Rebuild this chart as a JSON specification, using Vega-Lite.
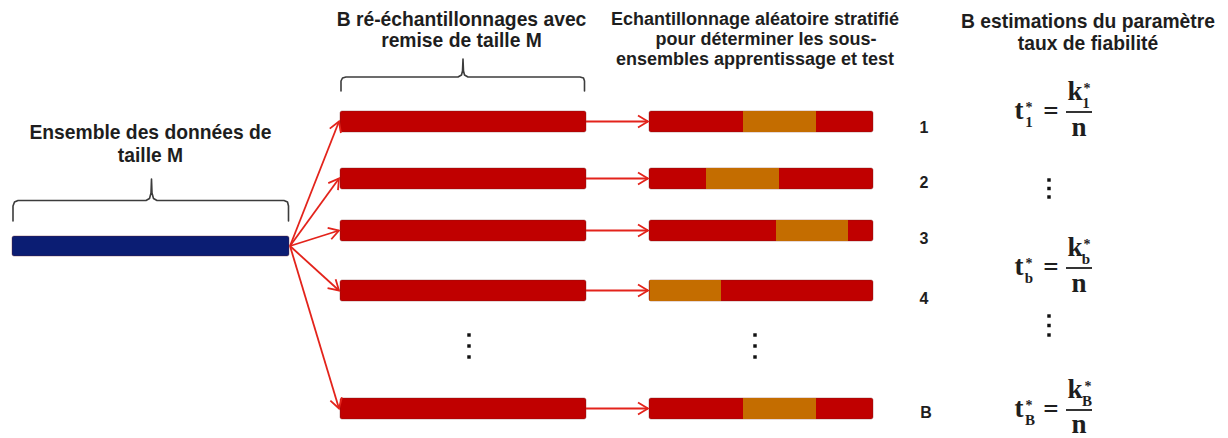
{
  "$schema": "https://vega.github.io/schema/vega-lite/v6.json",
  "width": 1228,
  "height": 438,
  "padding": 0,
  "autosize": {"type": "fit", "contains": "padding"},
  "background": "#ffffff",
  "config": {"view": {"stroke": null}, "axis": {"disable": true}, "legend": {"disable": true}},
  "datasets": {
    "bars": [
      {"kind": "ensemble", "x": 12, "x2": 289, "y": 236, "y2": 256},
      {"kind": "resample", "x": 340, "x2": 586, "y": 111, "y2": 132},
      {"kind": "resample", "x": 340, "x2": 586, "y": 168, "y2": 189},
      {"kind": "resample", "x": 340, "x2": 586, "y": 220, "y2": 241},
      {"kind": "resample", "x": 340, "x2": 586, "y": 280, "y2": 301},
      {"kind": "resample", "x": 340, "x2": 586, "y": 398, "y2": 419},
      {"kind": "apprentissage", "x": 649, "x2": 873, "y": 111, "y2": 132},
      {"kind": "apprentissage", "x": 649, "x2": 873, "y": 168, "y2": 189},
      {"kind": "apprentissage", "x": 649, "x2": 873, "y": 220, "y2": 241},
      {"kind": "apprentissage", "x": 649, "x2": 873, "y": 280, "y2": 301},
      {"kind": "apprentissage", "x": 649, "x2": 873, "y": 398, "y2": 419}
    ],
    "tests": [
      {"kind": "test", "x": 743, "x2": 816, "y": 111, "y2": 132},
      {"kind": "test", "x": 706, "x2": 779, "y": 168, "y2": 189},
      {"kind": "test", "x": 776, "x2": 848, "y": 220, "y2": 241},
      {"kind": "test", "x": 649.5, "x2": 721, "y": 280, "y2": 301},
      {"kind": "test", "x": 743, "x2": 816, "y": 398, "y2": 419}
    ],
    "arrows": [
      {"x": 290, "y": 246, "x2": 339, "y2": 121.5},
      {"x": 290, "y": 246, "x2": 339, "y2": 178.5},
      {"x": 290, "y": 246, "x2": 339, "y2": 230.5},
      {"x": 290, "y": 246, "x2": 339, "y2": 290.5},
      {"x": 290, "y": 246, "x2": 339, "y2": 408.5},
      {"x": 586, "y": 121.5, "x2": 648, "y2": 121.5},
      {"x": 586, "y": 178.5, "x2": 648, "y2": 178.5},
      {"x": 586, "y": 230.5, "x2": 648, "y2": 230.5},
      {"x": 586, "y": 290.5, "x2": 648, "y2": 290.5},
      {"x": 586, "y": 408.5, "x2": 648, "y2": 408.5}
    ],
    "braces": [
      {"brace": "a", "i": 0, "x": 13, "y": 221},
      {"brace": "a", "i": 1, "x": 13, "y": 206},
      {"brace": "a", "i": 2, "x": 14.5, "y": 202},
      {"brace": "a", "i": 3, "x": 18, "y": 200.5},
      {"brace": "a", "i": 4, "x": 146, "y": 200.5},
      {"brace": "a", "i": 5, "x": 149.5, "y": 198.5},
      {"brace": "a", "i": 6, "x": 151, "y": 193},
      {"brace": "a", "i": 7, "x": 151.5, "y": 179},
      {"brace": "a", "i": 8, "x": 152, "y": 193},
      {"brace": "a", "i": 9, "x": 153.5, "y": 198.5},
      {"brace": "a", "i": 10, "x": 157, "y": 200.5},
      {"brace": "a", "i": 11, "x": 284, "y": 200.5},
      {"brace": "a", "i": 12, "x": 287.5, "y": 202},
      {"brace": "a", "i": 13, "x": 288.5, "y": 206},
      {"brace": "a", "i": 14, "x": 288.5, "y": 221},
      {"brace": "b", "i": 0, "x": 341, "y": 91},
      {"brace": "b", "i": 1, "x": 341, "y": 81},
      {"brace": "b", "i": 2, "x": 342.5, "y": 78},
      {"brace": "b", "i": 3, "x": 346, "y": 77},
      {"brace": "b", "i": 4, "x": 458, "y": 77},
      {"brace": "b", "i": 5, "x": 461.5, "y": 75},
      {"brace": "b", "i": 6, "x": 462.5, "y": 71},
      {"brace": "b", "i": 7, "x": 463, "y": 59},
      {"brace": "b", "i": 8, "x": 463.5, "y": 71},
      {"brace": "b", "i": 9, "x": 464.5, "y": 75},
      {"brace": "b", "i": 10, "x": 468, "y": 77},
      {"brace": "b", "i": 11, "x": 580, "y": 77},
      {"brace": "b", "i": 12, "x": 583.5, "y": 78},
      {"brace": "b", "i": 13, "x": 584.5, "y": 81},
      {"brace": "b", "i": 14, "x": 584.5, "y": 91}
    ],
    "headers": [
      {"group": "big", "label": "Ensemble des données de", "x": 150.5, "y": 139},
      {"group": "big", "label": "taille M", "x": 150.5, "y": 162},
      {"group": "big", "label": "B ré-échantillonnages avec", "x": 461.5, "y": 26},
      {"group": "big", "label": "remise de taille M", "x": 461.5, "y": 47},
      {"group": "small", "label": "Echantillonnage aléatoire stratifié", "x": 755, "y": 25},
      {"group": "small", "label": "pour déterminer les sous-", "x": 766, "y": 45},
      {"group": "small", "label": "ensembles apprentissage et test", "x": 755, "y": 65},
      {"group": "big", "label": "B estimations du paramètre", "x": 1088, "y": 28},
      {"group": "big", "label": "taux de fiabilité", "x": 1088, "y": 50}
    ],
    "labels": [
      {"label": "1", "x": 924, "y": 133},
      {"label": "2", "x": 924, "y": 188},
      {"label": "3", "x": 924, "y": 244},
      {"label": "4", "x": 924, "y": 304},
      {"label": "B", "x": 926, "y": 418}
    ],
    "dots": [
      {"x": 1049, "y": 180}, {"x": 1049, "y": 188.5}, {"x": 1049, "y": 197},
      {"x": 1049, "y": 316}, {"x": 1049, "y": 325.5}, {"x": 1049, "y": 335},
      {"x": 469, "y": 335}, {"x": 469, "y": 346}, {"x": 469, "y": 357},
      {"x": 755, "y": 335}, {"x": 755, "y": 346}, {"x": 755, "y": 357}
    ],
    "fractions": [
      {"x": 1066, "x2": 1092, "y": 112},
      {"x": 1066, "x2": 1092, "y": 268},
      {"x": 1066, "x2": 1092, "y": 410}
    ],
    "formula": [
      {"role": "main", "label": "t", "x": 1019, "y": 119},
      {"role": "star", "label": "*", "x": 1029, "y": 112},
      {"role": "sub", "label": "1", "x": 1029, "y": 127},
      {"role": "main", "label": "=", "x": 1051, "y": 120},
      {"role": "main", "label": "k", "x": 1075, "y": 100},
      {"role": "star", "label": "*", "x": 1087, "y": 93},
      {"role": "sub", "label": "1", "x": 1086, "y": 108},
      {"role": "main", "label": "n", "x": 1079, "y": 136},
      {"role": "main", "label": "t", "x": 1019, "y": 275},
      {"role": "star", "label": "*", "x": 1029, "y": 268},
      {"role": "sub", "label": "b", "x": 1029, "y": 283},
      {"role": "main", "label": "=", "x": 1051, "y": 276},
      {"role": "main", "label": "k", "x": 1075, "y": 256},
      {"role": "star", "label": "*", "x": 1087, "y": 249},
      {"role": "sub", "label": "b", "x": 1086, "y": 264},
      {"role": "main", "label": "n", "x": 1079, "y": 292},
      {"role": "main", "label": "t", "x": 1019, "y": 417},
      {"role": "star", "label": "*", "x": 1029, "y": 410},
      {"role": "sub", "label": "B", "x": 1030, "y": 425},
      {"role": "main", "label": "=", "x": 1051, "y": 418},
      {"role": "main", "label": "k", "x": 1075, "y": 398},
      {"role": "star", "label": "*", "x": 1088, "y": 391},
      {"role": "sub", "label": "B", "x": 1087, "y": 406},
      {"role": "main", "label": "n", "x": 1079, "y": 433}
    ]
  },
  "encoding": {
    "x": {"field": "x", "type": "quantitative", "scale": {"domain": [0, 1228], "nice": false, "zero": false}, "axis": null},
    "y": {"field": "y", "type": "quantitative", "scale": {"domain": [0, 438], "reverse": true, "nice": false, "zero": false}, "axis": null}
  },
  "layer": [
    {
      "data": {"name": "braces"},
      "mark": {"type": "line", "stroke": "#3c3c3c", "strokeWidth": 1.6, "strokeJoin": "round", "strokeCap": "round"},
      "encoding": {"detail": {"field": "brace", "type": "nominal"}, "order": {"field": "i", "type": "quantitative"}}
    },
    {
      "data": {"name": "bars"},
      "mark": {"type": "rect", "cornerRadius": 2, "stroke": "#6b2020", "strokeWidth": 0.7, "strokeOpacity": 0.5},
      "encoding": {
        "x2": {"field": "x2"},
        "y2": {"field": "y2"},
        "color": {"field": "kind", "type": "nominal", "scale": {"domain": ["ensemble", "resample", "apprentissage", "test"], "range": ["#0b1d73", "#c00000", "#c00000", "#c46d00"]}, "legend": null}
      }
    },
    {
      "data": {"name": "tests"},
      "mark": {"type": "rect", "cornerRadius": 0},
      "encoding": {
        "x2": {"field": "x2"},
        "y2": {"field": "y2"},
        "color": {"field": "kind", "type": "nominal", "scale": {"domain": ["ensemble", "resample", "apprentissage", "test"], "range": ["#0b1d73", "#c00000", "#c00000", "#c46d00"]}, "legend": null}
      }
    },
    {
      "data": {"name": "arrows"},
      "mark": {"type": "rule", "stroke": "#e3231b", "strokeWidth": 1.8},
      "encoding": {"x2": {"field": "x2"}, "y2": {"field": "y2"}}
    },
    {
      "data": {"name": "arrows"},
      "transform": [{"calculate": "atan2(datum.y2 - datum.y, datum.x2 - datum.x) * 180 / PI", "as": "angle"}],
      "mark": {"type": "point", "shape": "M-1,-0.6L0,0L-1,0.6", "filled": false, "stroke": "#e3231b", "strokeWidth": 1.8, "size": 400, "opacity": 1},
      "encoding": {
        "x": {"field": "x2", "type": "quantitative", "scale": {"domain": [0, 1228], "nice": false, "zero": false}, "axis": null},
        "y": {"field": "y2", "type": "quantitative", "scale": {"domain": [0, 438], "reverse": true, "nice": false, "zero": false}, "axis": null},
        "angle": {"field": "angle", "type": "quantitative", "scale": null}
      }
    },
    {
      "data": {"name": "headers"},
      "transform": [{"filter": "datum.group === 'big'"}],
      "mark": {"type": "text", "font": "Liberation Sans", "fontWeight": "bold", "fontSize": 19.3, "align": "center", "baseline": "alphabetic", "color": "#1e1e1e"},
      "encoding": {"text": {"field": "label", "type": "nominal"}}
    },
    {
      "data": {"name": "headers"},
      "transform": [{"filter": "datum.group === 'small'"}],
      "mark": {"type": "text", "font": "Liberation Sans", "fontWeight": "bold", "fontSize": 18, "align": "center", "baseline": "alphabetic", "color": "#1e1e1e"},
      "encoding": {"text": {"field": "label", "type": "nominal"}}
    },
    {
      "data": {"name": "labels"},
      "mark": {"type": "text", "font": "Liberation Sans", "fontWeight": "bold", "fontSize": 16, "align": "center", "baseline": "alphabetic", "color": "#1e1e1e"},
      "encoding": {"text": {"field": "label", "type": "nominal"}}
    },
    {
      "data": {"name": "dots"},
      "mark": {"type": "point", "shape": "square", "filled": true, "size": 12, "color": "#111111", "opacity": 1}
    },
    {
      "data": {"name": "fractions"},
      "mark": {"type": "rule", "stroke": "#1e1e1e", "strokeWidth": 1.8},
      "encoding": {"x2": {"field": "x2"}}
    },
    {
      "data": {"name": "formula"},
      "transform": [{"filter": "datum.role === 'main'"}],
      "mark": {"type": "text", "font": "Liberation Serif", "fontWeight": "bold", "fontSize": 27, "align": "center", "baseline": "alphabetic", "color": "#1e1e1e"},
      "encoding": {"text": {"field": "label", "type": "nominal"}}
    },
    {
      "data": {"name": "formula"},
      "transform": [{"filter": "datum.role === 'star'"}],
      "mark": {"type": "text", "font": "Liberation Serif", "fontWeight": "bold", "fontSize": 14, "align": "center", "baseline": "alphabetic", "color": "#1e1e1e"},
      "encoding": {"text": {"field": "label", "type": "nominal"}}
    },
    {
      "data": {"name": "formula"},
      "transform": [{"filter": "datum.role === 'sub'"}],
      "mark": {"type": "text", "font": "Liberation Serif", "fontWeight": "bold", "fontSize": 15, "align": "center", "baseline": "alphabetic", "color": "#1e1e1e"},
      "encoding": {"text": {"field": "label", "type": "nominal"}}
    }
  ]
}
